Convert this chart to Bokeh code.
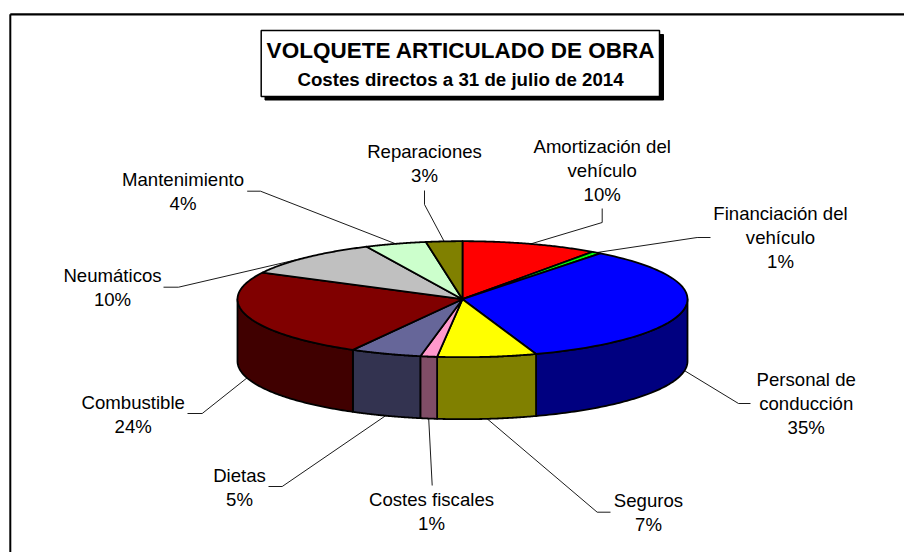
import numpy as np
from bokeh.plotting import figure
from bokeh.models import ColumnDataSource
from bokeh.core.properties import value
from bokeh.embed import file_html
from bokeh.resources import INLINE

# --- chart content ---------------------------------------------------------
title = "VOLQUETE ARTICULADO DE OBRA"
subtitle = "Costes directos a 31 de julio de 2014"
categories = ["Amortización del\nvehículo", "Financiación del\nvehículo", "Personal de\nconducción",
              "Seguros", "Costes fiscales", "Dietas", "Combustible", "Neumáticos",
              "Mantenimiento", "Reparaciones"]
values = [9.8, 0.7, 34.2, 7.1, 1.2, 5.1, 24.5, 10.4, 4.4, 2.6]
percent_labels = ["10%", "1%", "35%", "7%", "1%", "5%", "24%", "10%", "4%", "3%"]
top_colors = ["#FF0000", "#00FF00", "#0000FF", "#FFFF00", "#FF99CC",
              "#666699", "#800000", "#C0C0C0", "#CCFFCC", "#808000"]
side_colors = ["#800000", "#008000", "#000080", "#808000", "#804D66",
               "#333350", "#400000", "#606060", "#668066", "#404000"]

# --- layout (image pixel coordinates) --------------------------------------
CX, CY, A, B, DEPTH = 462.0, 298.7, 225.0, 58.0, 62.0
LABEL_SIZE = "18.6px"
LINE_STEP = 24
label_x = [601.7, 780, 805.7, 648, 431, 239, 132.7, 112, 182.5, 424]
label_y = [145.7, 213, 379, 500, 499, 475, 402, 275, 179, 150.7]
# leader: point next to the label, elbow; the third point is the slice's midpoint
leader_start = [(601.7, 208), (710, 237), (750, 403), (610, 511.7), (431.7, 485),
                (268, 486), (187, 413), (163, 286.7), (246.7, 190.7), (424, 190)]
leader_elbow = [(601.7, 222), (696.7, 237), (738, 403), (596.7, 511.7), (431.7, 485),
                (281.7, 486), (201.7, 413), (178, 286.7), (260, 190.7), (424, 204)]


def ellipse_point(t, drop=0.0):
    a = 2 * np.pi * np.asarray(t)
    return CX + A * np.sin(a), CY - B * np.cos(a) + drop


W, H = 904, 552
p = figure(width=W, height=H, x_range=(0, W), y_range=(H, 0),
           output_backend="svg", toolbar_location=None,
           x_axis_location=None, y_axis_location=None, min_border=0)
p.grid.visible = False
p.outline_line_color = None
p.background_fill_color = "white"

# frame: top and left edges only
p.line([9.8, W], [13.8, 13.8], line_color="black", line_width=2.2)
p.line([9.8, 9.8], [13.8, H], line_color="black", line_width=2.0)

# cumulative fractions
total = sum(values)
edges = np.concatenate([[0], np.cumsum(values)]) / total

# leaders under the pie
for i in range(len(values)):
    mid = (edges[i] + edges[i + 1]) / 2
    front = 0.25 < mid < 0.75
    ex, ey = ellipse_point(mid, DEPTH if front else 0.0)
    xs = [leader_start[i][0], leader_elbow[i][0], float(ex)]
    ys = [leader_start[i][1], leader_elbow[i][1], float(ey)]
    p.line(xs, ys, line_color="black", line_width=0.9)

# side walls of the front half
side_x, side_y, side_c = [], [], []
for i in range(len(values)):
    lo, hi = max(edges[i], 0.25), min(edges[i + 1], 0.75)
    if lo >= hi:
        continue
    t = np.linspace(lo, hi, 80)
    x0, y0 = ellipse_point(t)
    x1, y1 = ellipse_point(t[::-1], DEPTH)
    side_x.append(np.concatenate([x0, x1]).tolist())
    side_y.append(np.concatenate([y0, y1]).tolist())
    side_c.append(side_colors[i])
p.patches("x", "y", source=ColumnDataSource(dict(x=side_x, y=side_y, c=side_c)),
          fill_color="c", line_color="black", line_width=1.8, line_join="round")

# top face
top_x, top_y, top_c = [], [], []
for i in range(len(values)):
    t = np.linspace(edges[i], edges[i + 1], 80)
    x0, y0 = ellipse_point(t)
    top_x.append([CX] + x0.tolist())
    top_y.append([CY] + y0.tolist())
    top_c.append(top_colors[i])
p.patches("x", "y", source=ColumnDataSource(dict(x=top_x, y=top_y, c=top_c)),
          fill_color="c", line_color="black", line_width=1.8, line_join="round")

# labels
txt_x, txt_y, txt_s = [], [], []
for i, name in enumerate(categories):
    lines = name.split("\n") + [percent_labels[i]]
    for k, s in enumerate(lines):
        txt_x.append(label_x[i])
        txt_y.append(label_y[i] + k * LINE_STEP)
        txt_s.append(s)
p.text("x", "y", text="s", source=ColumnDataSource(dict(x=txt_x, y=txt_y, s=txt_s)),
       text_font=value("Liberation Sans"), text_font_size=LABEL_SIZE,
       text_align="center", text_baseline="middle", text_color="#000000")

# title box with shadow
p.quad(left=264.5, right=663, top=34, bottom=99.5, fill_color="black", line_color="black")
p.quad(left=260.7, right=659, top=30, bottom=96, fill_color="white",
       line_color="black", line_width=1.5)
p.text([460.5], [50], text=[title], text_font=value("Liberation Sans"), text_font_size="22.5px",
       text_font_style="bold", text_align="center", text_baseline="middle", text_color="black")
p.text([460], [78.5], text=[subtitle], text_font=value("Liberation Sans"), text_font_size="18.7px",
       text_font_style="bold", text_align="center", text_baseline="middle", text_color="black")

open("out.html", "w").write(file_html(p, INLINE))
